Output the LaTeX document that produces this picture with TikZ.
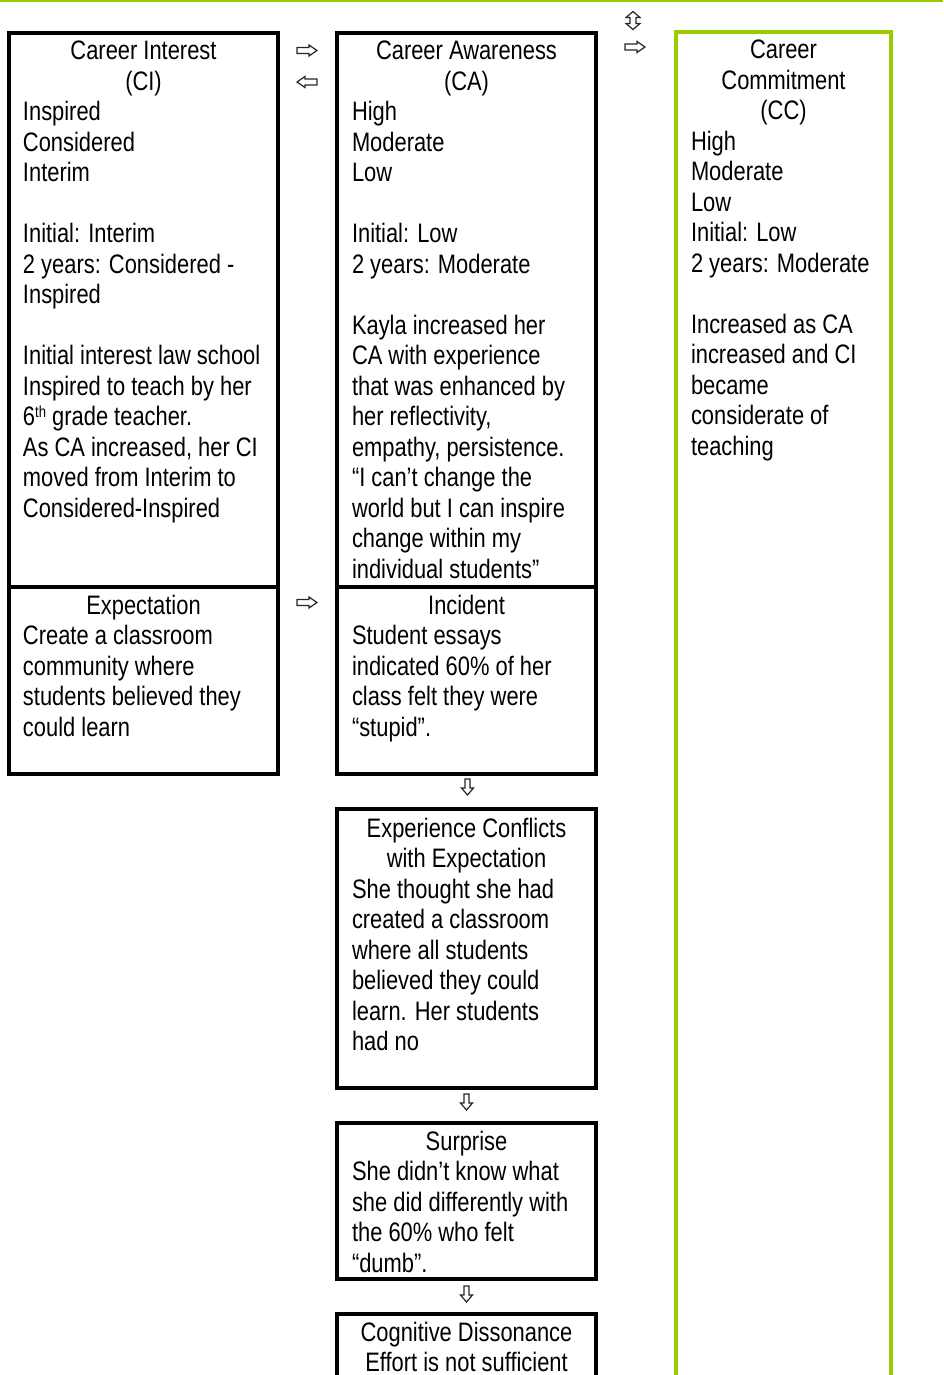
\documentclass[tikz,border=0pt]{standalone}
\usepackage{fontspec}
\setmainfont{Liberation Sans}[FakeStretch=0.82]
\usetikzlibrary{calc}
\definecolor{leaf}{RGB}{153,204,0}
\newcommand{\headtext}[2]{\parbox[t]{#1}{\centering #2}}
\newcommand{\bodytext}[1]{\parbox[t]{320pt}{\raggedright #1}}
\tikzset{
  frame/.style={draw=black, line width=4pt, inner sep=0pt, outer sep=0pt, anchor=north west},
  ccframe/.style={frame, draw=leaf},
  words/.style={inner sep=0pt, outer sep=0pt, text=black, font=\fontsize{26.7}{30.5}\selectfont},
  outline/.style={draw=black!85, fill=white, line width=1.2pt, line join=miter},
  % hollow arrow signs
  rgt/.pic={\draw[outline] (-10,-3) -- (2,-3) -- (2,-5.5) -- (10,0) -- (2,5.5) -- (2,3) -- (-10,3) -- cycle;},
  lft/.pic={\draw[outline] (10,-3) -- (-2,-3) -- (-2,-5.5) -- (-10,0) -- (-2,5.5) -- (-2,3) -- (10,3) -- cycle;},
  dwn/.pic={\draw[outline] (-2.5,-8) -- (2.5,-8) -- (2.5,1) -- (6,1) -- (0,8) -- (-6,1) -- (-2.5,1) -- cycle;},
  updn/.pic={\draw[outline] (0,-9) -- (7,-3) -- (3,-3) -- (3,3) -- (7,3) -- (0,9) -- (-7,3) -- (-3,3) -- (-3,-3) -- (-7,-3) -- cycle;},
}
\begin{document}
\begin{tikzpicture}[x=1pt, y=-1pt]
\clip (0,0) rectangle (943,1375);

% rule across the top
\coordinate (rl) at (0,1);
\coordinate (rr) at (943,1);
\draw[leaf, line width=2pt] (rl) -- (rr);

% frames
\node[frame, minimum width=269pt, minimum height=554pt] (ci) at (9,33) {};
\node[frame, minimum width=259pt, minimum height=554pt] (ca) at (337,33) {};
\node[frame, minimum width=269pt, minimum height=187pt] (ex) at (9,587) {};
\node[frame, minimum width=259pt, minimum height=187pt] (inc) at (337,587) {};
\node[frame, minimum width=259pt, minimum height=279pt] (conf) at (337,809) {};
\node[frame, minimum width=259pt, minimum height=156pt] (sur) at (337,1123) {};
\node[frame, minimum width=259pt, minimum height=120pt] (cog) at (337,1314) {};
\node[ccframe, minimum width=215pt, minimum height=1400pt] (cc) at (676,32) {};

% Career Interest
\node[words, anchor=base] (cih) at ($(ci.north)+(0,27)$) {\headtext{240pt}{Career Interest\\(CI)}};
\node[words, anchor=base west] (cib) at ($(ci.north west)+(14,88)$) {\bodytext{Inspired\\Considered\\Interim\\[30.5pt]Initial: Interim\\2 years: Considered -\\Inspired\\[30.5pt]Initial interest law school\\Inspired to teach by her\\6{\fontsize{16}{16}\selectfont\raisebox{8pt}{th}} grade teacher.\\As CA increased, her CI\\moved from Interim to\\Considered-Inspired}};

% Career Awareness
\node[words, anchor=base] (cah) at ($(ca.north)+(0,27)$) {\headtext{230pt}{Career Awareness\\(CA)}};
\node[words, anchor=base west] (cab) at ($(ca.north west)+(15,88)$) {\bodytext{High\\Moderate\\Low\\[30.5pt]Initial: Low\\2 years: Moderate\\[30.5pt]Kayla increased her\\CA with experience\\that was enhanced by\\her reflectivity,\\empathy, persistence.\\“I can’t change the\\world but I can inspire\\change within my\\individual students”}};

% Career Commitment
\node[words, anchor=base] (cch) at ($(cc.north)+(0,27)$) {\headtext{190pt}{Career\\Commitment\\(CC)}};
\node[words, anchor=base west] (ccb) at ($(cc.north west)+(15,118.5)$) {\bodytext{High\\Moderate\\Low\\Initial: Low\\2 years: Moderate\\[30.5pt]Increased as CA\\increased and CI\\became\\considerate of\\teaching}};

% Expectation
\node[words, anchor=base] (exh) at ($(ex.north)+(0,27)$) {\headtext{240pt}{Expectation}};
\node[words, anchor=base west] (exb) at ($(ex.north west)+(14,57.5)$) {\bodytext{Create a classroom\\community where\\students believed they\\could learn}};

% Incident
\node[words, anchor=base] (inch) at ($(inc.north)+(0,27)$) {\headtext{230pt}{Incident}};
\node[words, anchor=base west] (incb) at ($(inc.north west)+(15,57.5)$) {\bodytext{Student essays\\indicated 60\% of her\\class felt they were\\“stupid”.}};

% Experience conflicts with expectation
\node[words, anchor=base] (confh) at ($(conf.north)+(0,28)$) {\headtext{230pt}{Experience Conflicts\\with Expectation}};
\node[words, anchor=base west] (confb) at ($(conf.north west)+(15,89)$) {\bodytext{She thought she had\\created a classroom\\where all students\\believed they could\\learn. Her students\\had no}};

% Surprise
\node[words, anchor=base] (surh) at ($(sur.north)+(0,27)$) {\headtext{230pt}{Surprise}};
\node[words, anchor=base west] (surb) at ($(sur.north west)+(15,57.5)$) {\bodytext{She didn’t know what\\she did differently with\\the 60\% who felt\\“dumb”.}};

% Cognitive dissonance
\node[words, anchor=base] (cogh) at ($(cog.north)+(0,27)$) {\headtext{240pt}{Cognitive Dissonance\\Effort is not sufficient}};

% arrow signs between the frames
\pic (g1) at (307,50.5) {rgt};
\pic (g2) at (307,82) {lft};
\pic (g3) at (633,20.5) {updn};
\pic (g4) at (635,47) {rgt};
\pic (g5) at (307,602.5) {rgt};
\pic (g6) at ($(inc.south)+(1,13)$) {dwn};
\pic (g7) at ($(conf.south)+(0,14)$) {dwn};
\pic (g8) at ($(sur.south)+(0,15)$) {dwn};
\end{tikzpicture}
\end{document}
